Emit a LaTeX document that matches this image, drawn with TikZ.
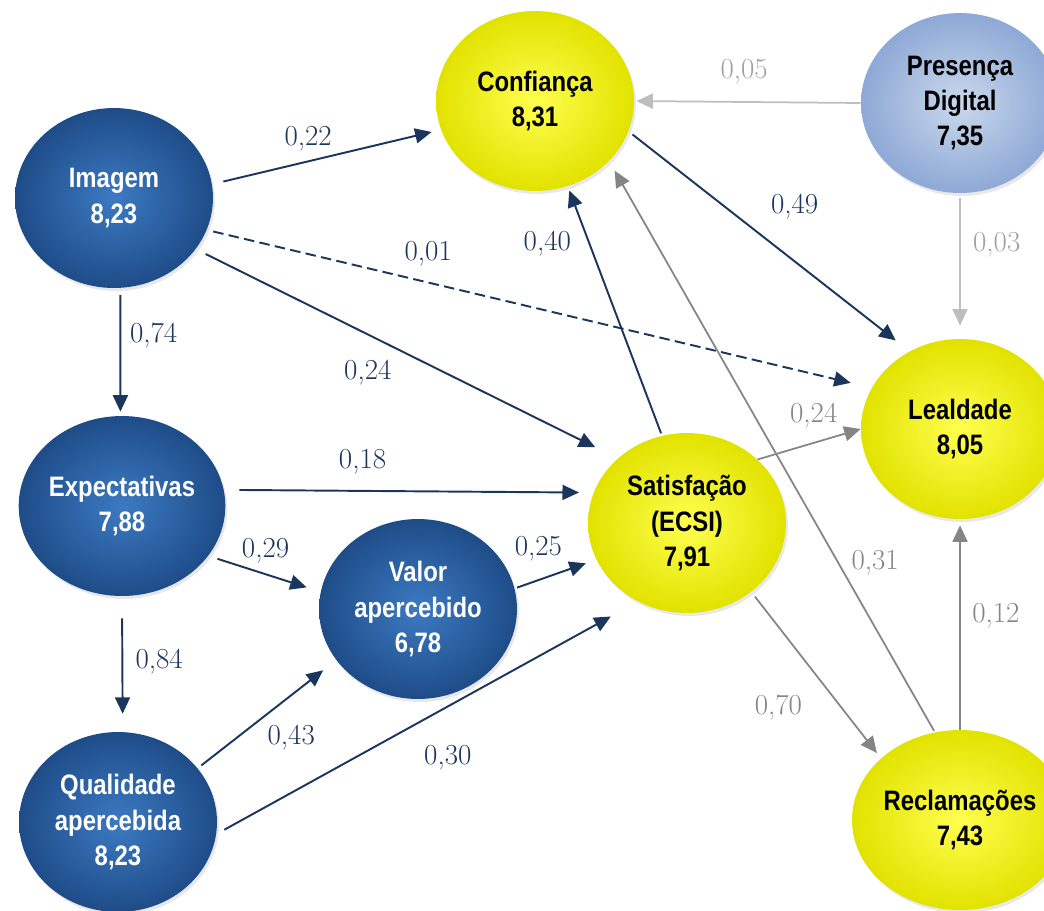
\documentclass[tikz,border=0pt]{standalone}
\usepackage{fontspec}
\usepackage{tikz}
\usetikzlibrary{shapes.geometric,arrows.meta,shadows}
\newfontfamily\nodefont[FakeStretch=0.85]{Liberation Sans}
\definecolor{navy}{HTML}{1B365D}
\definecolor{midgrey}{HTML}{858585}
\definecolor{lightgrey}{HTML}{BEBEBE}
\definecolor{blueIn}{HTML}{3C7AC2}
\definecolor{blueOut}{HTML}{1E4C88}
\definecolor{yellowIn}{HTML}{FFFF50}
\definecolor{yellowOut}{HTML}{E2E200}
\definecolor{paleIn}{HTML}{CAD8EC}
\definecolor{paleOut}{HTML}{8EA9D6}
\tikzset{
    var/.style={ellipse, minimum width=3.96cm, minimum height=3.6cm, inner sep=0pt, align=center,
        font=\nodefont\bfseries\fontsize{16}{20}\selectfont,
        drop shadow={opacity=0.18, shadow xshift=0.04cm, shadow yshift=-0.06cm}},
    bluevar/.style={var, text=white, inner color=blueIn, outer color=blueOut},
    yellowvar/.style={var, text=black, inner color=yellowIn, outer color=yellowOut},
    palevar/.style={var, text=black, inner color=paleIn, outer color=paleOut},
    rel/.style={draw=navy, line width=1.1pt, -{Triangle[length=0.33cm, width=0.3cm]}},
    relgrey/.style={draw=midgrey, line width=1pt, -{Triangle[length=0.33cm, width=0.3cm]}},
    rellight/.style={draw=lightgrey, line width=1pt, -{Triangle[length=0.33cm, width=0.3cm]}},
    lbl/.style={font=\fontsize{16.5}{20}\selectfont, inner sep=2pt, text=navy},
    lblgrey/.style={lbl, text=midgrey},
    lbllight/.style={lbl, text=lightgrey!85!black}
}

\begin{document}
\begin{tikzpicture}[x=0.02cm, y=-0.02cm]
    \useasboundingbox (0,0) rectangle (1044,910);

    \node[bluevar] (img) at (114,198) {Imagem\\8,23};
    \node[bluevar] (expc) at (122,506) {Expectativas\\7,88};
    \node[bluevar] (qual) at (118,822) {Qualidade\\apercebida\\8,23};
    \node[bluevar] (valor) at (418,609) {Valor\\apercebido\\6,78};
    \node[yellowvar] (sat) at (687,523) {Satisfação\\(ECSI)\\7,91};
    \node[yellowvar] (conf) at (535,101) {Confiança\\8,31};
    \node[palevar] (pres) at (960,103) {Presença\\Digital\\7,35};
    \node[yellowvar] (leal) at (960,429) {Lealdade\\8,05};
    \node[yellowvar] (recl) at (960,820) {Reclamações\\7,43};

    \draw[rel, shorten <=0.23cm, shorten >=0.19cm] (img.8) -- (conf.197) node[lbl, pos=0.42, above=3pt] {0,22};
    \draw[rel, dash pattern=on 6pt off 3pt, shorten <=0.13cm, shorten >=0.43cm] (img.-19) -- (leal.155) node[lbl, pos=0.333, above=7pt] {0,01};
    \draw[rel, shorten <=0.22cm, shorten >=0.5cm] (img.-32) -- (sat.137) node[lbl, pos=0.485, below left=2.6pt] {0,24};
    \draw[rel, shorten <=0.14cm, shorten >=0.08cm] (img.-86) -- (expc.91) node[lbl, pos=0.375, right=3pt] {0,74};
    \draw[rel, shorten <=0.31cm, shorten >=0.29cm] (expc.9) -- (sat.162) node[lbl, pos=0.375, above=7pt] {0,18};
    \draw[rel, shorten <=0.19cm, shorten >=0.29cm] (expc.-30) -- (valor.170) node[lbl, pos=0.51, above=4pt] {0,29};
    \draw[rel, shorten <=0.44cm, shorten >=0.36cm] (expc.south) -- (qual.87) node[lbl, pos=0.48, right=5pt] {0,84};
    \draw[rel, shorten <=0.05cm, shorten >=0.22cm] (valor.12) -- (sat.202) node[lbl, pos=0.29, above=8pt] {0,25};
    \draw[rel, shorten <=0.09cm, shorten >=0.33cm] (qual.34) -- (valor.212) node[lbl, pos=0.46, below right=1pt] {0,43};
    \draw[rel, shorten <=0.18cm, shorten >=0.62cm] (qual.-7) -- (sat.238) node[lbl, pos=0.454, below right=6.8pt] {0,30};
    \draw[rel, shorten <=0.05cm, shorten >=0.09cm] (sat.106) -- (conf.-69) node[lbl, pos=0.77, left=8pt] {0,40};
    \draw[rel, shorten <=0.1cm, shorten >=0.35cm] (conf.-18) -- (leal.123) node[lbl, pos=0.46, above right=5pt] {0,49};
    \draw[rellight, shorten >=0.04cm] (pres.west) -- (conf.east) node[lbllight, pos=0.515, above=7.5pt] {0,05};
    \draw[rellight, shorten <=0.1cm, shorten >=0.26cm] (pres.south) -- (leal.north) node[lbllight, pos=0.356, right=5pt] {0,03};
    \draw[relgrey] (sat.42) -- (leal.west) node[lblgrey, pos=0.545, above=6pt] {0,24};
    \draw[relgrey, shorten <=0.12cm, shorten >=0.13cm] (sat.-47) -- (recl.142) node[lblgrey, pos=0.52, below left=7pt] {0,70};
    \draw[relgrey, shorten <=0.03cm, shorten >=0.22cm] (recl.106) -- (conf.-39) node[lblgrey, pos=0.296, right=5pt] {0,31};
    \draw[relgrey, shorten >=0.12cm] (recl.north) -- (leal.south) node[lblgrey, pos=0.54, right=4.5pt] {0,12};
\end{tikzpicture}
\end{document}
